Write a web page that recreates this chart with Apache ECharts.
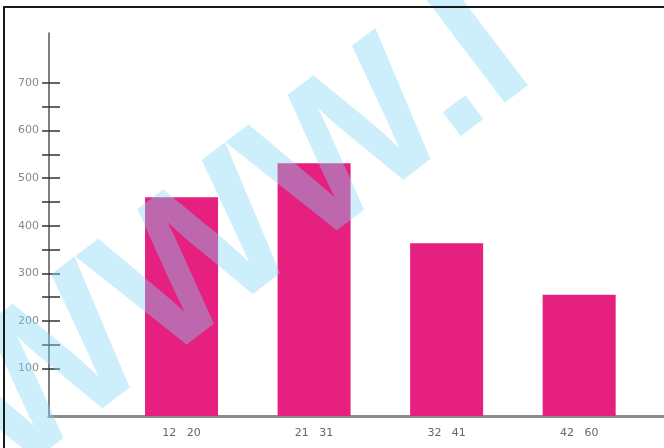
<!DOCTYPE html>
<html>
<head>
<meta charset="utf-8">
<script src="https://cdn.jsdelivr.net/npm/echarts@6/dist/echarts.min.js"></script>
<style>
html,body{margin:0;padding:0;background:#fff;}
#wrap{position:relative;width:664px;height:448px;overflow:hidden;background:#fff;}
#chart{position:absolute;left:0;top:0;width:664px;height:448px;}
#frameTop{position:absolute;left:3px;top:6px;width:661px;height:2px;background:#1a1a1a;z-index:5;}
#frameLeft{position:absolute;left:3px;top:6px;width:2px;height:442px;background:#1a1a1a;z-index:5;}
</style>
</head>
<body>
<div id="wrap">
  <div id="chart"></div>
  <div id="frameTop"></div>
  <div id="frameLeft"></div>
</div>
<script>
// ---- data ----
var categories = ['12   20', '21   31', '32   41', '42   60'];
var values = [460, 531, 363, 255];
var yTickLabels = [100, 200, 300, 400, 500, 600, 700];
var yTickMarks = [100, 150, 200, 250, 300, 350, 400, 450, 500, 550, 600, 650, 700];

var chart = echarts.init(document.getElementById('chart'), null, {renderer: 'canvas'});

var seriesData = values.map(function (v, i) { return [i, v]; });

var option = {
  backgroundColor: '#ffffff',
  animation: false,
  grid: {left: 49, right: 0, top: 33, bottom: 32, containLabel: false},
  xAxis: {
    type: 'value',
    min: -1,
    max: 3.64,
    interval: 1,
    axisLine: {show: true, onZero: false, lineStyle: {color: '#8c8c8c', width: 3}},
    axisTick: {show: false},
    splitLine: {show: false},
    axisLabel: {
      margin: 12,
      color: '#666',
      fontSize: 11,
      fontFamily: 'DejaVu Sans',
      showMinLabel: false,
      showMaxLabel: false,
      formatter: function (v) {
        var i = Math.round(v);
        return (i >= 0 && i < categories.length && Math.abs(v - i) < 1e-6) ? categories[i] : '';
      }
    }
  },
  yAxis: [{
    type: 'value',
    min: 0,
    max: 805,
    axisLine: {show: true, onZero: false, lineStyle: {color: '#555', width: 1.5}},
    axisTick: {show: true, length: 7, customValues: yTickMarks, lineStyle: {color: '#333', width: 1.5}},
    splitLine: {show: false},
    axisLabel: {
      margin: 10,
      color: '#888',
      fontSize: 11,
      fontFamily: 'DejaVu Sans',
      customValues: yTickLabels
    }
  }, {
    type: 'value',
    min: 0,
    max: 805,
    position: 'left',
    axisLine: {show: false, onZero: false},
    axisTick: {show: true, inside: true, length: 11, customValues: yTickMarks, lineStyle: {color: '#333', width: 1.5}},
    axisLabel: {show: false},
    splitLine: {show: false}
  }],
  series: [{
    type: 'bar',
    data: seriesData,
    barWidth: 73,
    itemStyle: {color: '#E5207F'}
  }],
  graphic: [{
    type: 'text',
    x: 35,
    y: 516,
    rotation: 0.65,
    z: 100,
    silent: true,
    style: {
      text: 'WWW.I',
      font: 'bold 200px "Liberation Sans", Arial, sans-serif',
      fill: 'rgba(130,212,245,0.4)',
      textAlign: 'left',
      textVerticalAlign: 'bottom'
    }
  }]
};
chart.setOption(option);
</script>
</body>
</html>
